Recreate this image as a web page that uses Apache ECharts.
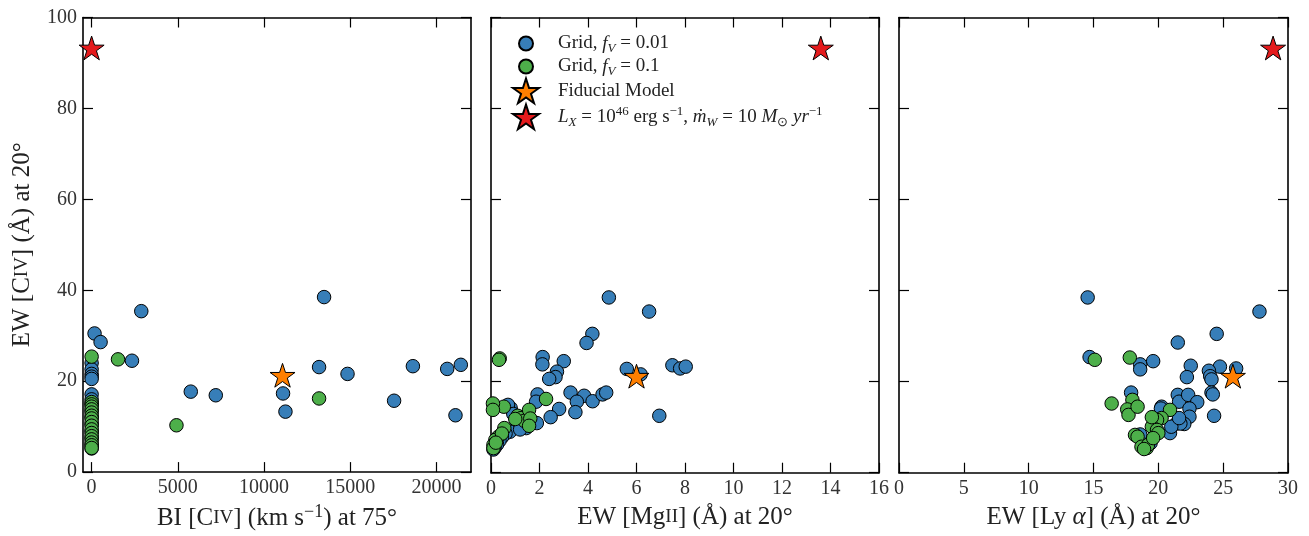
<!DOCTYPE html>
<html>
<head>
<meta charset="utf-8">
<script src="https://cdn.jsdelivr.net/npm/echarts@6/dist/echarts.min.js"></script>
<style>html,body{margin:0;padding:0;background:#fff}#c{width:1309px;height:536px}</style>
</head>
<body>
<div id="c"></div>
<script>
// ---- data ----
var biBlue = [[2880,35.4],[13480,38.5],[170,30.5],[520,28.6],[2340,24.5],[5750,17.7],[7200,16.9],[11100,17.3],[11240,13.3],[13190,23.1],[14840,21.6],[17540,15.7],[18630,23.3],[20620,22.7],[21410,23.6],[21100,12.5],
  [0,24.0],[0,22.6],[0,21.6],[0,21.0],[0,20.5],[0,17.1],[0,16.0],[0,15.0],[0,13.5],[0,12.0],[0,10.5],[0,9.0],[0,7.5],[0,6.0],[0,5.2]];
var biGreen = [[1530,24.8],[4920,10.3],[13190,16.2],[0,25.4],[0,15.4],[0,14.9],[0,14.4],[0,13.8],[0,13.1],[0,12.4],[0,11.8],[0,11.0],[0,10.2],[0,9.4],[0,8.6],[0,7.9],[0,7.2],[0,6.5],[0,5.9],[0,5.3]];
var biFid = [[11070,21.3]];
var biHi = [[0,93.3]];

var mgBlue = [[4.86,38.5],[6.52,35.4],[4.18,30.5],[3.94,28.5],[3.0,24.5],[2.13,25.4],[2.12,23.8],[2.72,22.2],[2.66,21.0],[2.40,20.6],[5.6,22.8],[6.17,21.6],[7.48,23.6],[7.8,22.9],[8.03,23.3],[6.94,12.5],[3.28,17.6],[3.84,16.9],[3.54,15.6],[4.19,15.7],[4.6,17.2],[4.75,17.6],[3.48,13.3],[2.81,14.0],[2.46,12.2],[1.92,17.2],[1.86,15.6],[1.89,10.9],
  [0.81,14.2],[0.7,14.9],[0.92,12.9],[1.33,11.6],[1.12,10.5],[0.99,9.8],[0.78,9.0],[0.6,8.6],[0.45,7.8],[0.35,7.0],[0.25,6.2],[0.15,5.5],[0.1,5.1],[1.45,9.8],[1.2,9.5]];
var mgGreen = [[0.36,25.1],[0.33,24.8],[2.27,16.2],[0.53,14.5],[0.08,15.2],[0.08,13.8],[1.1,12.5],[1.24,12.0],[1.37,11.4],[1.57,13.8],[1.62,11.9],[1.57,10.3],[0.55,9.8],[0.3,7.9],[0.18,7.2],[0.1,6.1],[0.1,5.4],[0.45,8.6],[0.2,6.6],[1.0,11.8]];
var mgFid = [[6.0,21.2]];
var mgHi = [[13.6,93.3]];

var lyBlue = [[14.55,38.5],[27.8,35.4],[24.5,30.5],[21.5,28.6],[14.7,25.4],[19.6,24.5],[18.6,23.8],[18.6,22.7],[22.5,23.5],[24.75,23.3],[26.0,22.9],[23.9,22.4],[24.0,21.2],[24.1,20.5],[22.2,21.0],[17.9,17.6],[21.5,17.1],[21.6,15.6],[22.3,17.1],[24.1,17.6],[24.2,17.2],[23.0,15.5],[24.3,12.5],[22.4,14.1],[22.4,12.3],[20.25,14.5],[20.2,14.1],[22.0,10.7],[21.4,10.8],[21.7,10.8],[20.9,8.7],[21.0,10.1],[21.6,12.0],[18.6,8.4],[19.0,5.5],[19.4,6.5]];
var lyGreen = [[15.1,24.8],[17.8,25.3],[16.4,15.2],[18.0,16.0],[17.6,13.9],[17.7,12.7],[18.4,14.5],[20.9,13.8],[20.25,12.0],[19.9,11.6],[19.5,10.1],[19.9,9.4],[20.0,8.7],[18.2,8.3],[18.4,7.9],[18.7,5.7],[19.1,5.4],[19.2,6.1],[18.9,5.2],[19.6,7.6],[19.5,12.2]];
var lyFid = [[25.75,21.2]];
var lyHi = [[28.85,93.3]];

var biTicks = [0,5000,10000,15000,20000];

var nameBlue = 'Grid, fV = 0.01';
var nameGreen = 'Grid, fV = 0.1';
var nameFid = 'Fiducial Model';
var nameHi = 'LX = 1e46, mdot = 10';

// ---- styling ----
var FONT = 'Liberation Serif';
var COL = {blue:'#377eb8', green:'#4daf4a', orange:'#ff7f00', red:'#e41a1c'};
var STAR = 'path://M0,-10L2.245,-3.09L9.511,-3.09L3.633,1.18L5.878,8.09L0,3.82L-5.878,8.09L-3.633,1.18L-9.511,-3.09L-2.245,-3.09Z';

var grids = [
  {left:83, top:17.5, width:388, height:455.2},
  {left:491, top:17.5, width:388, height:455.2},
  {left:899, top:17.5, width:389, height:455.2}
];

function rich(fs, lh){
  var s = Math.round(fs*0.7);
  return {
    n:{fontFamily:FONT,fontSize:fs,color:'#222',lineHeight:lh},
    i:{fontFamily:FONT,fontSize:fs,fontStyle:'italic',color:'#222',lineHeight:lh},
    sc:{fontFamily:FONT,fontSize:Math.round(fs*0.74),color:'#222',lineHeight:lh},
    sup:{fontFamily:FONT,fontSize:s,color:'#222',lineHeight:s,verticalAlign:'top'},
    sub:{fontFamily:FONT,fontSize:s,fontStyle:'italic',color:'#222',lineHeight:Math.round(fs*0.85),verticalAlign:'bottom'},
    subn:{fontFamily:FONT,fontSize:s,color:'#222',lineHeight:Math.round(fs*0.85),verticalAlign:'bottom'}
  };
}

var lineSty = {color:'#000', width:1.6};
var tickSty = {color:'#000', width:1.2};
var plainNum = function(v){ return String(v); };

function xAx(idx, pos, min, max, interval, custom, nm){
  var a = {
    type:'value', gridIndex:idx, position:pos, min:min, max:max,
    axisLine:{show:true, onZero:false, lineStyle:lineSty},
    axisTick:{show:true, inside:true, length:10, lineStyle:tickSty},
    splitLine:{show:false},
    axisLabel:{show: pos==='bottom', fontFamily:FONT, fontSize:20, color:'#333', margin:6, showMinLabel:true, showMaxLabel:true, formatter:plainNum}
  };
  if (interval) a.interval = interval;
  if (custom){ a.axisLabel.customValues = custom; a.axisTick.customValues = custom; }
  if (nm && pos==='bottom'){
    a.name = nm; a.nameLocation='middle'; a.nameGap=29;
    a.nameTextStyle = {fontFamily:FONT, fontSize:25, color:'#222', rich:rich(25,31)};
  }
  return a;
}
function yAx(idx, pos, nm){
  var a = {
    type:'value', gridIndex:idx, position:pos, min:0, max:100, interval:20,
    axisLine:{show:true, onZero:false, lineStyle:lineSty},
    axisTick:{show:true, inside:true, length:10, lineStyle:tickSty},
    splitLine:{show:false},
    axisLabel:{show: (idx===0 && pos==='left'), fontFamily:FONT, fontSize:20, color:'#333', margin:6, formatter:plainNum}
  };
  if (nm){
    a.name = nm; a.nameLocation='middle'; a.nameGap=45;
    a.nameTextStyle = {fontFamily:FONT, fontSize:25, color:'#222', rich:rich(25,31)};
  }
  return a;
}

var xAxes = [
  xAx(0,'bottom',-500,22000,null,biTicks,'{n|BI [C}{sc|IV}{n|] (km s}{sup|−1}{n|) at 75°}'),
  xAx(1,'bottom',0,16,2,null,'{n|EW [Mg}{sc|II}{n|] (Å) at 20°}'),
  xAx(2,'bottom',0,30,5,null,'{n|EW [Ly }{i|α}{n|] (Å) at 20°}'),
  xAx(0,'top',-500,22000,null,biTicks,null),
  xAx(1,'top',0,16,2,null,null),
  xAx(2,'top',0,30,5,null,null)
];
var yAxes = [
  yAx(0,'left','{n|EW [C}{sc|IV}{n|] (Å) at 20°}'),
  yAx(1,'left',null), yAx(2,'left',null),
  yAx(0,'right',null), yAx(1,'right',null), yAx(2,'right',null)
];

var panels = [[biBlue,biGreen,biFid,biHi],[mgBlue,mgGreen,mgFid,mgHi],[lyBlue,lyGreen,lyFid,lyHi]];
var series = [];
panels.forEach(function(p, i){
  series.push({type:'scatter', name:nameBlue, xAxisIndex:i, yAxisIndex:i, data:p[0], symbol:'circle', symbolSize:13.5, z:2,
    itemStyle:{color:COL.blue, borderColor:'#000', borderWidth:1, opacity:1}});
  series.push({type:'scatter', name:nameGreen, xAxisIndex:i, yAxisIndex:i, data:p[1], symbol:'circle', symbolSize:13.5, z:3,
    itemStyle:{color:COL.green, borderColor:'#000', borderWidth:1, opacity:1}});
  series.push({type:'scatter', name:nameFid, xAxisIndex:i, yAxisIndex:i, data:p[2], symbol:STAR, symbolKeepAspect:true, symbolSize:25, z:4,
    itemStyle:{color:COL.orange, borderColor:'#000', borderWidth:1, opacity:1}});
  series.push({type:'scatter', name:nameHi, xAxisIndex:i, yAxisIndex:i, data:p[3], symbol:STAR, symbolKeepAspect:true, symbolSize:25, z:4,
    itemStyle:{color:COL.red, borderColor:'#000', borderWidth:1, opacity:1}});
});

var legendLabels = {};
legendLabels[nameBlue] = '{n|Grid, }{i|f}{sub|V}{n| = 0.01}';
legendLabels[nameGreen] = '{n|Grid, }{i|f}{sub|V}{n| = 0.1}';
legendLabels[nameFid] = '{n|Fiducial Model}';
legendLabels[nameHi] = '{i|L}{sub|X}{n| = 10}{sup|46}{n| erg s}{sup|−1}{n|, }{i|ṁ}{sub|W}{n| = 10 }{i|M}{subn|⊙}{n| }{i|yr}{sup|−1}';

var legTS = {fontFamily:FONT, fontSize:19, color:'#222', padding:[0,0,0,14], rich:rich(19,24)};
function leg(name, icon, left, top, h){
  return {orient:'vertical', left:left, top:top, itemWidth:26, itemHeight:h, selectedMode:false, padding:0,
    data:[{name:name, icon:icon}], formatter:function(n){return legendLabels[n];}, textStyle:legTS};
}
var option = {
  animation:false,
  backgroundColor:'#fff',
  grid: grids,
  xAxis: xAxes,
  yAxis: yAxes,
  legend: [
    leg(nameBlue,'circle',518,34,14),
    leg(nameGreen,'circle',518,57,14),
    leg(nameFid,STAR,512,77.5,25),
    leg(nameHi,STAR,512,103.5,25)
  ],
  series: series
};
var chart = echarts.init(document.getElementById('c'), null, {renderer:'canvas'});
chart.setOption(option);
</script>
</body>
</html>
